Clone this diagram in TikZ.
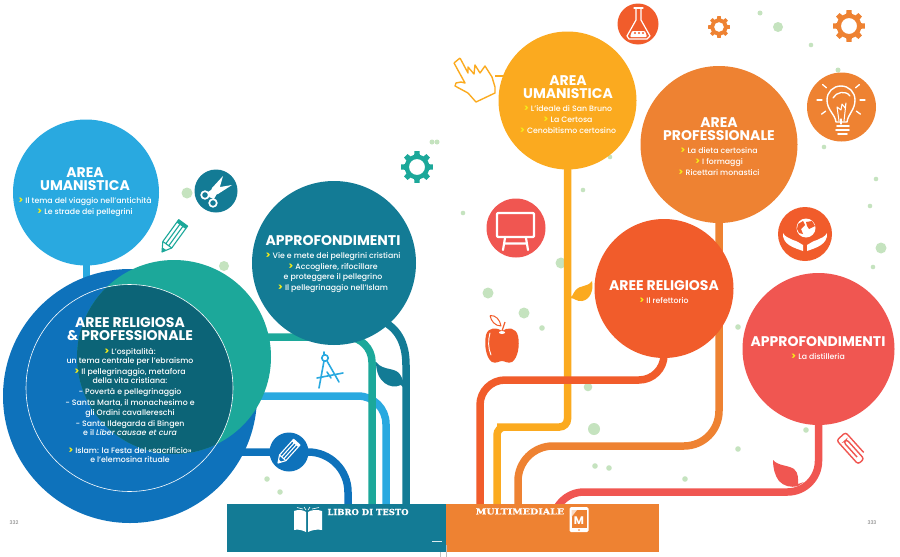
\documentclass[tikz,border=0pt]{standalone}
\usepackage{graphicx}
\usepackage{fontspec}
\setmainfont{Poppins Medium}[BoldFont=Poppins Bold,ItalicFont=Poppins Medium Italic]
\newfontfamily\slabfont{DejaVu Serif Bold}[FakeBold=.6]
\usepackage{xcolor}
\definecolor{blueL}{HTML}{29A9E0}
\definecolor{blueD}{HTML}{0E72BB}
\definecolor{tealC}{HTML}{1CA89A}
\definecolor{darkO}{HTML}{0C6477}
\definecolor{petrol}{HTML}{137B95}
\definecolor{yellowA}{HTML}{FBAA1F}
\definecolor{orangeA}{HTML}{EE8232}
\definecolor{redO}{HTML}{F15C2B}
\definecolor{coral}{HTML}{F05651}
\definecolor{dotG}{HTML}{C5E3BF}
\definecolor{arrowY}{HTML}{F5EC1A}
\newcommand{\hdf}{\fontsize{14}{9.4}\bfseries\selectfont}
\newcommand{\arw}{\textcolor{arrowY}{\scalebox{1.2}{\textbf{>}}}\ }
\newcommand{\gearshape}[5]{% x y outer colour hole
  \fill[#4,even odd rule,shift={(#1,#2)},line join=round]
    (-13:#3*.78) \foreach \a in {0,45,...,315}{
      -- (\a-13:#3*.78) -- (\a-9:#3) -- (\a+9:#3) -- (\a+13:#3*.78) -- (\a+32:#3*.78)}
    -- cycle (0,0) circle[radius=#3*#5];}
\newcommand{\pencilshape}[5]{% x y rotate scale colour
  \begin{scope}[shift={(#1,#2)},rotate=#3,scale=#4,draw=#5,line width=1.1pt,line join=round]
    \draw (0,0) -- (9,-5.5) -- (36,-5.5) -- (36,5.5) -- (9,5.5) -- cycle;
    \draw (9,-1.8) -- (33,-1.8) (9,1.8) -- (33,1.8) (9,-5.5) -- (9,5.5);
    \fill[#5] (0,0) -- (4,-2.4) -- (4,2.4) -- cycle;
    \fill[#5] (32.5,-5.5) rectangle (36,5.5);
  \end{scope}}
\tikzset{
  x=1pt,y=-1pt,
  bubble/.style={circle,inner sep=0pt,minimum size=#1},
  conn/.style={line width=7.5pt,line cap=butt},
  txt/.style={text=white,align=center,inner sep=0pt,font=\fontsize{7.8}{9.4}\selectfont,execute at begin node={\lineskiplimit=-50pt\relax}},
  dotS/.style={bubble=#1,fill=dotG},
  bar/.style={minimum width=#1,minimum height=48pt,inner sep=0pt},
  wline/.style={draw=white,line width=1.3pt,line cap=round,line join=round},
  slab/.style={text=white,inner sep=0pt,font=\slabfont\fontsize{8.3}{9}\selectfont},
}
\begin{document}
\begin{tikzpicture}
\useasboundingbox (0,0) rectangle (900,557);
\fill[white] (0,0) rectangle (900,557);
% green dots
\foreach \n/\x/\y/\r in {a/187/193/11,b/224/266/10,c/432/142/5,d/437/142/5,e/267/479/5.5,f/280/492/5.5,
  g/760/13/5,h/778/27/10,i/811/45/4.6,j/838/70/5,k/824/147/4.6,l/876/179/4.6,m/870/206/4.6,n/881/248/11,o/873/267/4.6,
  p/610/157/4.6,q/583/190/4.6,r/463/213/4.6,s/561/263/11,t/488/293/11,u/524/313/11,v/542/328/5.6,w/588/387/8.6,
  x/594/429/12,y/595/466/5.6,z/609/468/5.6,A/685/479/5.6,B/738/449/5.6,C/738/327/5.6,D/806/430/5.6}
  \node[dotS=\r pt] (dot\n) at (\x,\y) {};
% endpoints on the bars
\coordinate (bD) at (348,510);
\coordinate (bT) at (372,510);
\coordinate (bL) at (386,510);
\coordinate (bP) at (406,510);
\coordinate (mR) at (480,510);
\coordinate (mY) at (497,510);
\coordinate (mO) at (518,510);
\coordinate (mC) at (553,520);
% nodes that connectors use
\node[bubble=146pt] (umL) at (86,192.5) {};
\node[bubble=164pt] (apL) at (334,263) {};
\node[bubble=254pt] (reL) at (130,396) {};
\node[bubble=194pt] (teC) at (174,357) {};
\node[bubble=38pt] (penC) at (289,452) {};
\node[bubble=138pt] (umR) at (567.5,100.5) {};
\node[bubble=157pt] (prR) at (719,144.5) {};
\node[bubble=139pt] (reR) at (664,288.5) {};
\node[bubble=152pt] (apR) at (818.5,349) {};
% connectors left
\draw[conn,blueL,line width=7pt] (umL.center) -- (umL.center |- reL.center);
\draw[conn,blueL,rounded corners=28pt] (reL.center) -| (bL);
\draw[conn,tealC,rounded corners=25pt] (teC.center |- 0,337) -| (bT);
\draw[conn,blueD,rounded corners=40pt] (reL.center |- penC) -| (bD);
\draw[conn,petrol] (apL.center) -- (380,320) .. controls (397,327) and (406,342) .. (406,365) -- (bP);
% connectors right
\draw[conn,yellowA,rounded corners=8pt] (umR.center) |- (505,427) -| (mY);
\draw[conn,orangeA,rounded corners=35pt] (prR.center) |- (600,446) -| (mO);
\draw[conn,redO,rounded corners=25pt] (reR.center) |- (600,380) -| (mR);
\draw[conn,coral,rounded corners=31pt] (apR.center) |- (700,492) -| (mC);
\draw[yellowA,line width=1.2pt] (495,76) -- (umR.center |- 0,76);
% circles
\fill[blueL] (umL) circle[radius=73];
\fill[blueD] (reL) circle[radius=127];
\fill[tealC] (teC) circle[radius=97];
\begin{scope}
  \clip (129.5,388) circle[radius=103.5];
  \fill[darkO] (teC) circle[radius=97];
\end{scope}
\node[bubble=207pt,draw=white,line width=.6pt] (ring) at (129.5,388) {};
\fill[petrol] (apL) circle[radius=82];
\fill[yellowA] (umR) circle[radius=69];
\fill[orangeA] (prR) circle[radius=78.5];
\fill[redO] (reR) circle[radius=69.5];
\fill[coral] (apR) circle[radius=76];
\fill[blueD] (penC) circle[radius=19.5];
% icon discs
\node[bubble=43pt,fill=petrol] (scis) at (216,191) {};
\node[bubble=41pt,fill=redO] (flask) at (638,24) {};
\node[bubble=69pt,fill=orangeA] (bulb) at (841.5,107) {};
\node[bubble=54pt,fill=redO] (hands) at (805,234) {};
\node[bubble=59pt,fill=coral] (board) at (516,228) {};
% texts
\node[txt] (t1) at (85,192.5) {{\hdf AREA}\\[3.3pt]{\hdf UMANISTICA}\\[4pt]\arw Il tema del viaggio nell'antichità\\[1.6pt]\arw Le strade dei pellegrini};
\node[txt] (t2) at (333,264) {{\hdf APPROFONDIMENTI}\\[4pt]\arw Vie e mete dei pellegrini cristiani\\[1.6pt]\arw Accogliere, rifocillare\\e proteggere il pellegrino\\[1.6pt]\arw Il pellegrinaggio nell'Islam};
\node[txt] (t3) at (130,390.5) {{\hdf AREE RELIGIOSA}\\[3.3pt]{\hdf \& PROFESSIONALE}\\[4pt]\arw L'ospitalità:\\un tema centrale per l'ebraismo\\[1.6pt]\arw Il pellegrinaggio, metafora\\della vita cristiana:\\[1.6pt]- Povertà e pellegrinaggio\\[1.6pt]- Santa Marta, il monachesimo e\\gli Ordini cavallereschi\\[1.6pt]- Santa Ildegarda di Bingen\\e il {\itshape Liber causae et cura}\\[8.5pt]\arw Islam: la Festa del «sacrificio»\\e l'elemosina rituale};
\node[txt] (t4) at (568,105) {{\hdf AREA}\\[3.3pt]{\hdf UMANISTICA}\\[4pt]\arw L'ideale di San Bruno\\[1.6pt]\arw La Certosa\\[1.6pt]\arw Cenobitismo certosino};
\node[txt] (t5) at (719,147) {{\hdf AREA}\\[3.3pt]{\hdf PROFESSIONALE}\\[4pt]\arw La dieta certosina\\[1.6pt]\arw I formaggi\\[1.6pt]\arw Ricettari monastici};
\node[txt] (t6) at (664,292) {{\hdf AREE RELIGIOSA}\\[4pt]\arw Il refettorio};
\node[txt] (t7) at (818,348) {{\hdf APPROFONDIMENTI}\\[4pt]\arw La distilleria};
% bars
\node[bar=219pt,fill=petrol] (libro) at (336.5,528) {};
\node[bar=213pt,fill=orangeA] (multi) at (552.5,528) {};
\node[slab] (libT) at (368,512) {\scalebox{1.02}[1]{LIBRO DI TESTO}};
\node[slab] (mulT) at (520,511.5) {\scalebox{1.15}[1]{MULTIMEDIALE}};
\node[text=black!45,inner sep=0pt,font=\fontsize{5}{6}\selectfont] (p332) at (14,522.5) {332};
\node[text=black!45,inner sep=0pt,font=\fontsize{5}{6}\selectfont] (p333) at (872,522.5) {333};
\draw[white!85!petrol,line width=.7pt] (432,541) -- (442,541);
\draw[black!25,line width=.5pt] (440,552) -- (440,557) (446.5,545) -- (446.5,557);
% gears
\gearshape{417}{167}{16}{tealC}{.5}
\gearshape{719}{27}{11}{orangeA}{.45}
\gearshape{849}{26}{16}{orangeA}{.5}
% pencils
\pencilshape{162}{252}{54}{1}{tealC}
\pencilshape{278}{463}{48}{.78}{white}
% scissors
\fill[white] (232,185) -- (214,188) -- (208,192) -- (209,196) -- (218,194) -- cycle;
\fill[white] (223,176) -- (212,188) -- (209,197) -- (214,199) -- (219,190) -- cycle;
\draw[white,line width=1.7pt,fill=petrol] (205,195) circle[radius=3.8] (213,203) circle[radius=3.8];
% compass
\begin{scope}[draw=blueL,line width=1.6pt,line cap=round]
  \draw (325,358) circle[radius=3.2];
  \draw (324,355) -- (324,352);
  \draw (324,361) -- (319,388) (327,361) -- (339,382) (317,378) -- (343,373) (327,372) -- (331,378);
\end{scope}
% leaves
\fill[petrol] (376,362) .. controls (384,372) and (396,366) .. (401,376) .. controls (404,381) and (403,385) .. (405,389) -- (401,385) .. controls (390,390) and (376,382) .. (376,362);
\fill[yellowA] (592,281) .. controls (587,288) and (580,284) .. (575,291) .. controls (572,295) and (573,296) .. (570,298) .. controls (575,298) and (577,302) .. (582,301) .. controls (590,300) and (594,290) .. (592,281);
\fill[coral] (773,460) .. controls (778,466) and (788,465) .. (794,469) .. controls (799,473) and (798,480) .. (798,484) -- (804,482) -- (798,486) .. controls (790,488) and (784,486) .. (779,481) .. controls (775,476) and (773,468) .. (773,460);
% apple
\fill[redO] (502,331) .. controls (497,327) and (488,327) .. (486,335) .. controls (484,345) and (486,358) .. (492,362) .. controls (496,364) and (499,361) .. (502,361) .. controls (505,361) and (508,364) .. (512,362) .. controls (518,358) and (520,345) .. (518,336) .. controls (516,327) and (507,327) .. (502,331);
\draw[white,line width=.9pt,line cap=round] (490,333) .. controls (488,340) and (488,348) .. (491,355);
\fill[white] (502,332.5) ellipse[x radius=3,y radius=1.5];
\draw[redO,line width=1.2pt] (502,331) -- (505,322);
\draw[redO,line width=1pt,fill=white,line join=round] (490,315.5) .. controls (496,315) and (500,320) .. (501,326) .. controls (495,326) and (491,321) .. (490,315.5);
% paper clip
\begin{scope}[shift={(852.5,449)},rotate=-48,rounded corners=2.6pt]
  \draw[coral,line width=1.4pt] (9,2) -- (-11,2) -- (-11,-2) -- (15,-2) -- (15,6) -- (-17,6) -- (-17,-6) -- (10,-6);
\end{scope}
% hand cursor
\draw[yellowA,line width=1.4pt,line join=round,dash pattern=on 2.4pt off .25pt]
  (454,63) -- (460,58) -- (468,73) -- (468,67) -- (474,74) -- (475,65) -- (480,73) -- (485,66) -- (492,77) -- (495,87) -- (495,93) -- (476,102) -- (468,93) -- (455,86) -- (456,83) -- (461,82) -- (465,83) -- cycle;
% flask
\draw[wline,line width=1.2pt] (634,8) -- (643,8);
\draw[wline,line width=1.2pt] (636,9) -- (636,20) -- (627,36) -- (629,39) -- (647,39) -- (650,36) -- (641,20) -- (641,9);
\fill[white,rounded corners=1pt] (630,37) -- (632,31) -- (645,31) -- (647,37) -- cycle;
\fill[redO] (635,33) circle[radius=1.2] (639,33) circle[radius=1.2] (643,33) circle[radius=1.2];
% bulb
\foreach \a in {0,36,90,144,180,220,320}
  \draw[wline,line width=1.3pt,shift={(841,100)}] (\a:19) -- (\a:24);
\draw[wline,line width=1.4pt] (836,122) .. controls (835,114) and (827,110) .. (827,100) .. controls (827,92) and (833,86) .. (841,86) .. controls (849,86) and (855,92) .. (855,100) .. controls (855,110) and (848,114) .. (847,122) -- cycle;
\draw[wline,line width=1.3pt] (833,98) .. controls (836,92) and (846,90) .. (850,96);
\draw[wline,line width=1pt] (839,121) -- (837,107) -- (841,110) -- (842,104) -- (845,108) -- (846,103) -- (844,121);
\draw[wline,line width=1.6pt] (837,126) -- (849,126) (836,130) -- (849,130) (838,134) -- (847,134);
% hands and globe
\fill[white] (806,228) circle[radius=9.5];
\fill[redO] (798,224) -- (803,221) -- (805,225) -- (801,229) -- (803,234) -- (799,233) -- (797,229) -- cycle;
\fill[redO] (806,222) -- (812,221) -- (815,226) -- (809,229) -- (807,226) -- cycle;
\fill[white] (783,233) .. controls (785,237) and (789,238) .. (793,240) .. controls (797,241) and (801,244) .. (803,245) -- (803,251) .. controls (795,248) and (782,245) .. (783,233);
\fill[white] (827,233) .. controls (825,237) and (821,238) .. (817,240) .. controls (813,241) and (809,244) .. (807,245) -- (807,251) .. controls (815,248) and (828,245) .. (827,233);
% board
\draw[wline,line width=2.2pt,rounded corners=1pt] (497,213) rectangle (534,237);
\draw[wline,line width=2.2pt] (505,238) -- (503,250) (526,238) -- (528,250) (504,243.5) -- (527,243.5);
% book
\fill[white] (294,511) .. controls (299,509) and (303,510) .. (306,512) -- (306,532) .. controls (302,530) and (298,529) .. (294,530) -- cycle;
\fill[white] (322,511) .. controls (317,509) and (311,510) .. (308,512) -- (308,532) .. controls (312,530) and (317,529) .. (322,530) -- cycle;
\draw[white,line width=.6pt] (297,507.5) -- (303,509) (304,507) -- (306,510) (310,507) -- (308,510) (319,507.5) -- (312,509);
% tablet
\node[minimum width=19pt,minimum height=25pt,inner sep=0pt,fill=white,rounded corners=1.5pt] (tab) at (579,519.5) {};
\fill[orangeA] (571.5,510) rectangle (586.5,528);
\fill[white!70!orangeA] (571.5,510) -- (577,510) -- (571.5,517) -- cycle;
\node[text=white,inner sep=0pt,font=\bfseries\fontsize{11}{11}\selectfont] (tabM) at (579,520.5) {M};
\fill[orangeA] (579,530) circle[radius=.8];
\end{tikzpicture}
\end{document}
